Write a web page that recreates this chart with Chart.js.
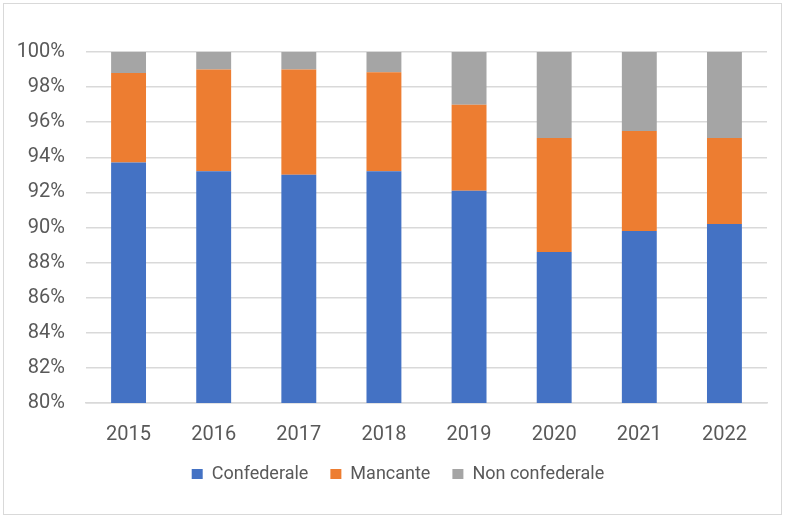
<!DOCTYPE html>
<html>
<head>
<meta charset="utf-8">
<script src="https://cdn.jsdelivr.net/npm/chart.js@4/dist/chart.umd.min.js"></script>
<style>
  html, body { margin: 0; padding: 0; background: #fff; }
  #wrap { position: relative; width: 788px; height: 519px; }
  #frame { position: absolute; left: 3px; top: 3px; width: 777px; height: 510px; border: 1px solid #d9d9d9; pointer-events: none; }
</style>
</head>
<body>
<div id="wrap">
  <canvas id="c" width="788" height="519"></canvas>
  <div id="frame"></div>
</div>
<script>
const categories = ["2015", "2016", "2017", "2018", "2019", "2020", "2021", "2022"];
const confederale = [93.7, 93.2, 93.0, 93.2, 92.1, 88.6, 89.8, 90.2];
const mancante = [5.1, 5.8, 6.0, 5.65, 4.9, 6.5, 5.7, 4.9];
const nonConfederale = [1.2, 1.0, 1.0, 1.15, 3.0, 4.9, 4.5, 4.9];
const yTicks = [80, 82, 84, 86, 88, 90, 92, 94, 96, 98, 100];

const textColor = "#595959";
const fontFamily = "Roboto, 'Open Sans', sans-serif";

const legendShift = {
  id: "legendShift",
  afterUpdate(chart) {
    if (chart.legend) { chart.legend.left += 29; }
  }
};

new Chart(document.getElementById("c"), {
  type: "bar",
  data: {
    labels: categories,
    datasets: [
      { label: "Confederale", data: confederale, backgroundColor: "#4472C4" },
      { label: "Mancante", data: mancante, backgroundColor: "#ED7D31" },
      { label: "Non confederale", data: nonConfederale, backgroundColor: "#A5A5A5" }
    ]
  },
  plugins: [legendShift],
  options: {
    responsive: false,
    animation: false,
    devicePixelRatio: 1,
    layout: { padding: { left: 0, right: 21, top: 52, bottom: 26 } },
    datasets: { bar: { categoryPercentage: 1, barPercentage: 0.41 } },
    plugins: {
      tooltip: { enabled: false },
      legend: {
        position: "bottom",
        labels: {
          color: textColor,
          font: { family: fontFamily, size: 18 },
          boxWidth: 11,
          boxHeight: 10,
          padding: 22
        }
      }
    },
    scales: {
      x: {
        stacked: true,
        grid: { display: false, drawTicks: false },
        border: { display: true, color: "#d9d9d9", width: 1.5 },
        ticks: { color: textColor, font: { family: fontFamily, size: 20 }, padding: 20 },
        afterFit: s => { s.height = 40; }
      },
      y: {
        stacked: true,
        min: 80,
        max: 100,
        afterBuildTicks: s => { s.ticks = yTicks.map(v => ({ value: v })); },
        grid: { color: "#d9d9d9", lineWidth: 1.5, drawTicks: false },
        border: { display: false },
        ticks: {
          color: textColor,
          font: { family: fontFamily, size: 20 },
          padding: 21,
          callback: v => v + "%"
        },
        afterFit: s => { s.width = 86; }
      }
    }
  }
});
</script>
</body>
</html>
